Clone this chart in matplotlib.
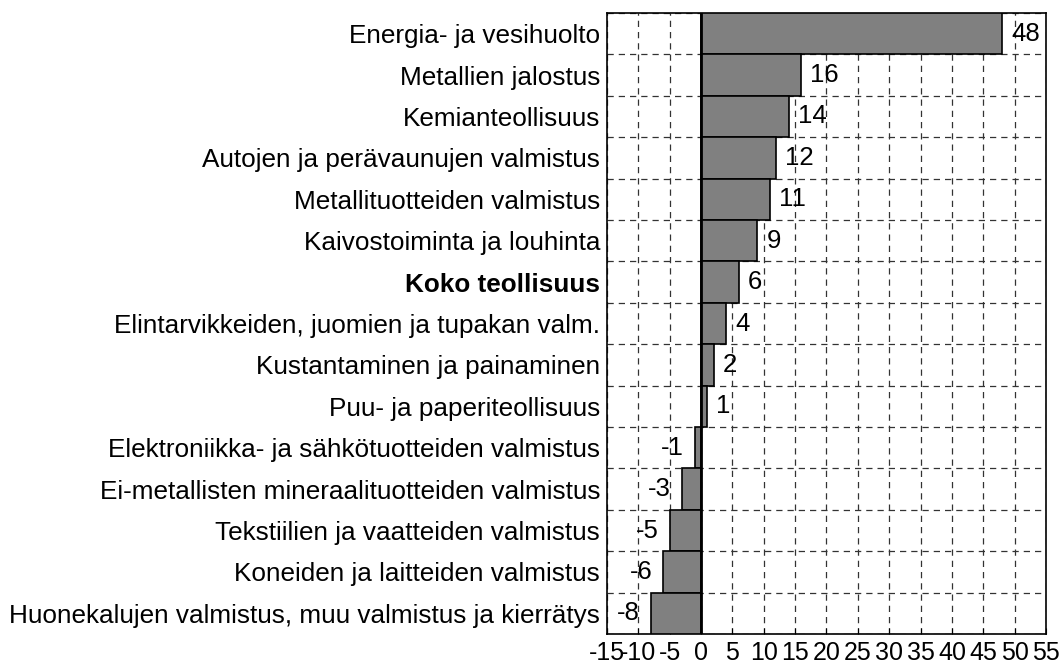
import matplotlib.pyplot as plt
import numpy as np

plt.rcParams["font.family"] = ["Liberation Sans", "DejaVu Sans"]

categories = [
    "Energia- ja vesihuolto",
    "Metallien jalostus",
    "Kemianteollisuus",
    "Autojen ja perävaunujen valmistus",
    "Metallituotteiden valmistus",
    "Kaivostoiminta ja louhinta",
    "Koko teollisuus",
    "Elintarvikkeiden, juomien ja tupakan valm.",
    "Kustantaminen ja painaminen",
    "Puu- ja paperiteollisuus",
    "Elektroniikka- ja sähkötuotteiden valmistus",
    "Ei-metallisten mineraalituotteiden valmistus",
    "Tekstiilien ja vaatteiden valmistus",
    "Koneiden ja laitteiden valmistus",
    "Huonekalujen valmistus, muu valmistus ja kierrätys",
]
values = [48, 16, 14, 12, 11, 9, 6, 4, 2, 1, -1, -3, -5, -6, -8]
x_ticks = list(range(-15, 60, 5))

FS = 18.5

fig = plt.figure(figsize=(10.6, 6.66), dpi=100)
ax = fig.add_axes([0.5726, 0.048, 0.4142, 0.9325])

y = np.arange(len(categories))
ax.barh(y, values, height=1.0, color="#808080", edgecolor="black",
        linewidth=1.2, zorder=3)
ax.axvline(0, color="black", linewidth=2, zorder=4)

# value labels beside each bar end
for yi, v in zip(y, values):
    if v >= 0:
        ax.annotate(str(v), (v, yi), xytext=(6.5, 0), textcoords="offset points",
                    ha="left", va="center", fontsize=FS, zorder=5)
    else:
        ax.annotate(str(v), (v, yi), xytext=(-8, 0), textcoords="offset points",
                    ha="right", va="center", fontsize=FS, zorder=5)

ax.set_xlim(-15, 55)
ax.set_ylim(len(categories) - 0.5, -0.5)
ax.set_xticks(x_ticks)
ax.set_xticklabels([str(t) for t in x_ticks], fontsize=18)
ax.set_yticks(y)
ax.set_yticklabels(categories, fontsize=18.8)
for lbl in ax.get_yticklabels():
    if lbl.get_text() == "Koko teollisuus":
        lbl.set_fontweight("bold")

ax.set_yticks(np.arange(len(categories) + 1) - 0.5, minor=True)
ax.tick_params(axis="y", which="both", length=0, pad=5)
ax.tick_params(axis="x", direction="in", length=4, pad=5, color="black")
ax.grid(True, axis="x", which="major", linestyle=(0, (5, 4)), color="#333333",
        linewidth=0.9, zorder=1)
ax.grid(True, axis="y", which="minor", linestyle=(0, (5, 4)), color="#333333",
        linewidth=0.9, zorder=1)
ax.grid(False, axis="y", which="major")

for s in ax.spines.values():
    s.set_linewidth(1.2)
    s.set_color("black")

fig.savefig("out.png", dpi=100)
